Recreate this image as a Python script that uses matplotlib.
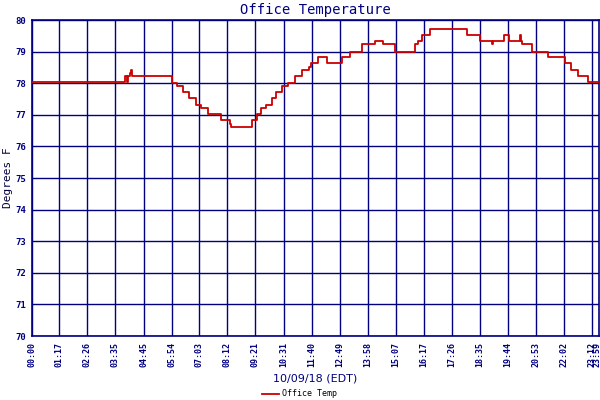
import matplotlib
matplotlib.use("Agg")
import matplotlib.pyplot as plt

# step change points: minute of day -> temperature (deg F)
change_minutes = [0, 240, 244, 246, 251, 254, 256, 354, 368, 382, 398, 414, 426, 443,
                  476, 498, 501, 553, 564, 574, 586, 601, 613, 626, 642, 659, 675, 693,
                  698, 715, 737, 775, 794, 823, 856, 876, 905, 954, 963, 973, 993, 1082,
                  1115, 1144, 1148, 1175, 1187, 1214, 1217, 1220, 1244, 1284, 1325, 1341,
                  1356, 1382, 1409]
temps = [78.04, 78.22, 78.04, 78.22, 78.31, 78.42, 78.23, 78.02, 77.91, 77.71, 77.52,
         77.31, 77.20, 77.03, 76.84, 76.72, 76.61, 76.84, 77.03, 77.20, 77.32, 77.52,
         77.71, 77.91, 78.02, 78.24, 78.41, 78.50, 78.64, 78.82, 78.64, 78.82, 79.00,
         79.24, 79.33, 79.24, 79.00, 79.24, 79.33, 79.53, 79.71, 79.53, 79.33, 79.24,
         79.33, 79.53, 79.33, 79.53, 79.33, 79.24, 79.00, 78.82, 78.64, 78.41, 78.22,
         78.04, 78.04]

tick_labels = ["00:00", "01:17", "02:26", "03:35", "04:45", "05:54", "07:03", "08:12",
               "09:21", "10:31", "11:40", "12:49", "13:58", "15:07", "16:17", "17:26",
               "18:35", "19:44", "20:53", "22:02", "23:12", "23:59"]
x_start, x_end = 9.6, 1409


def to_min(s):
    h, m = s.split(":")
    return int(h) * 60 + int(m)


tick_pos = [x_start] + [to_min(s) for s in tick_labels[1:-1]] + [1403]

navy = "#000080"
mono = "DejaVu Sans Mono"

fig = plt.figure(figsize=(6, 4), dpi=100)
ax = fig.add_axes([32 / 600, 1 - 336 / 400, 567 / 600, 316 / 400])

line, = ax.plot(change_minutes, temps, drawstyle="steps-post", color="#cc0000",
                lw=1.3, label="Office Temp", zorder=3)

ax.set_xlim(x_start, x_end)
ax.set_ylim(70, 80)
ax.set_xticks(tick_pos)
ax.set_xticklabels(tick_labels, rotation=90, fontsize=6, family=mono,
                   color=navy, fontweight="bold")
ax.set_yticks(range(70, 81))
ax.set_yticklabels([str(v) for v in range(70, 81)], fontsize=6.5, family=mono,
                   color=navy, fontweight="bold")
ax.tick_params(length=0, pad=4)
ax.grid(True, color=navy, lw=1)
# last label sits at the end of the data, no grid line there
ax.xaxis.get_gridlines()[-1].set_visible(False)
for s in ax.spines.values():
    s.set_color(navy)
    s.set_linewidth(1.2)

ax.set_title("Office Temperature", fontsize=10, family=mono, color=navy, pad=4)
ax.set_ylabel("Degrees F", fontsize=8, family=mono, color="#000040", labelpad=2)
ax.set_xlabel("10/09/18 (EDT)", fontsize=8, color=navy, labelpad=5)

fig.legend(handles=[line], loc="lower center", bbox_to_anchor=(0.5, -0.015),
           frameon=False, prop={"family": mono, "size": 6},
           handlelength=2, handletextpad=0.4)

fig.savefig("out.png", dpi=100)
